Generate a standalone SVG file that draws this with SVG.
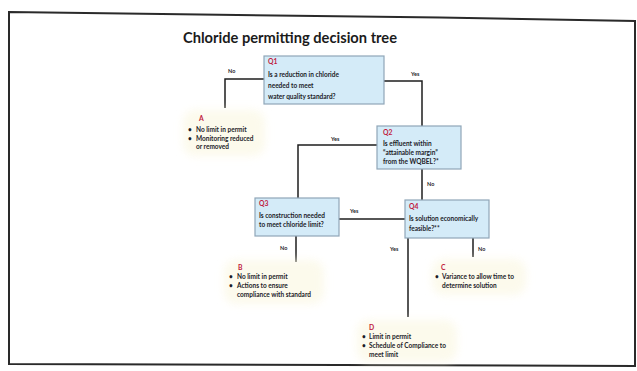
<svg xmlns="http://www.w3.org/2000/svg" width="637" height="371" viewBox="0 0 637 371">
<style>
.frame{fill:none;stroke:#2a2a2a;stroke-width:2}
.title{font-family:Lato,"Open Sans","Liberation Sans",sans-serif;font-weight:700;font-size:15px;fill:#1b1b1b}
.box{fill:#d4ebf8;stroke:#8fa6b8;stroke-width:1.2}
.q{font-family:Lato,"Liberation Sans",sans-serif;font-weight:700;font-size:6.8px;fill:#c0183c}
.t{font-family:Lato,"Liberation Sans",sans-serif;font-weight:700;font-size:6.5px;fill:#1c1c28}
.lbl{font-family:Lato,"Liberation Sans",sans-serif;font-weight:700;font-size:5.5px;fill:#1c1c28}
.conn{fill:none;stroke:#1e1e1e;stroke-width:1.5}
.glow{fill:#fbf8e4;opacity:0.7}
</style>
<defs>
<filter id="blur" x="-20%" y="-30%" width="140%" height="160%"><feGaussianBlur stdDeviation="4"/></filter>
</defs>
<rect width="637" height="371" fill="#ffffff"/>
<path class="frame" d="M9,12 L200,14.5 L440,17.5 L635,21 L635,366 L9,364 Z"/>
<text class="title" x="183" y="43" textLength="214" lengthAdjust="spacingAndGlyphs">Chloride permitting decision tree</text>

<g id="connectors">
<polyline class="conn" points="266,79 225,79 225,108"/>
<polyline class="conn" points="383,81 422,81 422,126"/>
<polyline class="conn" points="377,145 298,145 298,198"/>
<line class="conn" x1="422" y1="169" x2="422" y2="200"/>
<line class="conn" x1="339" y1="219" x2="405" y2="219"/>
<line class="conn" x1="296" y1="236" x2="296" y2="262"/>
<line class="conn" x1="408" y1="238" x2="408" y2="317"/>
<line class="conn" x1="473" y1="238" x2="473" y2="257"/>
<text class="lbl" x="228" y="73">No</text>
<text class="lbl" x="411" y="76">Yes</text>
<text class="lbl" x="331" y="141">Yes</text>
<text class="lbl" x="427" y="186">No</text>
<text class="lbl" x="350" y="213">Yes</text>
<text class="lbl" x="280" y="250">No</text>
<text class="lbl" x="390" y="251">Yes</text>
<text class="lbl" x="478" y="251">No</text>
</g>

<g id="Q1">
<rect class="box" x="264" y="56" width="120" height="48"/>
<text class="q" x="268" y="64">Q1</text>
<text class="t" x="268" y="77">Is a reduction in chloride</text>
<text class="t" x="268" y="88">needed to meet</text>
<text class="t" x="268" y="99">water quality standard?</text>
</g>

<g id="Q2">
<rect class="box" x="377" y="126" width="84" height="43"/>
<text class="q" x="383" y="135">Q2</text>
<text class="t" x="383" y="146">Is effluent within</text>
<text class="t" x="383" y="155">“attainable margin”</text>
<text class="t" x="383" y="164">from the WQBEL?*</text>
</g>

<g id="Q3">
<rect class="box" x="255" y="198" width="84" height="38"/>
<text class="q" x="259" y="206">Q3</text>
<text class="t" x="259" y="218">Is construction needed</text>
<text class="t" x="259" y="227">to meet chloride limit?</text>
</g>

<g id="Q4">
<rect class="box" x="405" y="200" width="84" height="38"/>
<text class="q" x="409" y="209">Q4</text>
<text class="t" x="409" y="221">Is solution economically</text>
<text class="t" x="409" y="231">feasible?**</text>
</g>

<g id="A">
<rect class="glow" x="183" y="110" width="82" height="46" rx="12" filter="url(#blur)"/>
<text class="q" x="199" y="121">A</text>
<text class="t" x="188" y="132">•</text>
<text class="t" x="196" y="132">No limit in permit</text>
<text class="t" x="188" y="141">•</text>
<text class="t" x="196" y="141">Monitoring reduced</text>
<text class="t" x="196" y="149">or removed</text>
</g>

<g id="B">
<rect class="glow" x="224" y="260" width="100" height="44" rx="12" filter="url(#blur)"/>
<text class="q" x="238" y="270">B</text>
<text class="t" x="229" y="279">•</text>
<text class="t" x="237" y="279">No limit in permit</text>
<text class="t" x="229" y="288">•</text>
<text class="t" x="237" y="288">Actions to ensure</text>
<text class="t" x="237" y="297">compliance with standard</text>
</g>

<g id="C">
<rect class="glow" x="432" y="259" width="94" height="36" rx="12" filter="url(#blur)"/>
<text class="q" x="441" y="270">C</text>
<text class="t" x="435" y="279">•</text>
<text class="t" x="442" y="279">Variance to allow time to</text>
<text class="t" x="442" y="288">determine solution</text>
</g>

<g id="D">
<rect class="glow" x="357" y="320" width="100" height="42" rx="12" filter="url(#blur)"/>
<text class="q" x="369" y="330">D</text>
<text class="t" x="362" y="339">•</text>
<text class="t" x="369" y="339">Limit in permit</text>
<text class="t" x="362" y="348">•</text>
<text class="t" x="369" y="348">Schedule of Compliance to</text>
<text class="t" x="369" y="357">meet limit</text>
</g>
</svg>
